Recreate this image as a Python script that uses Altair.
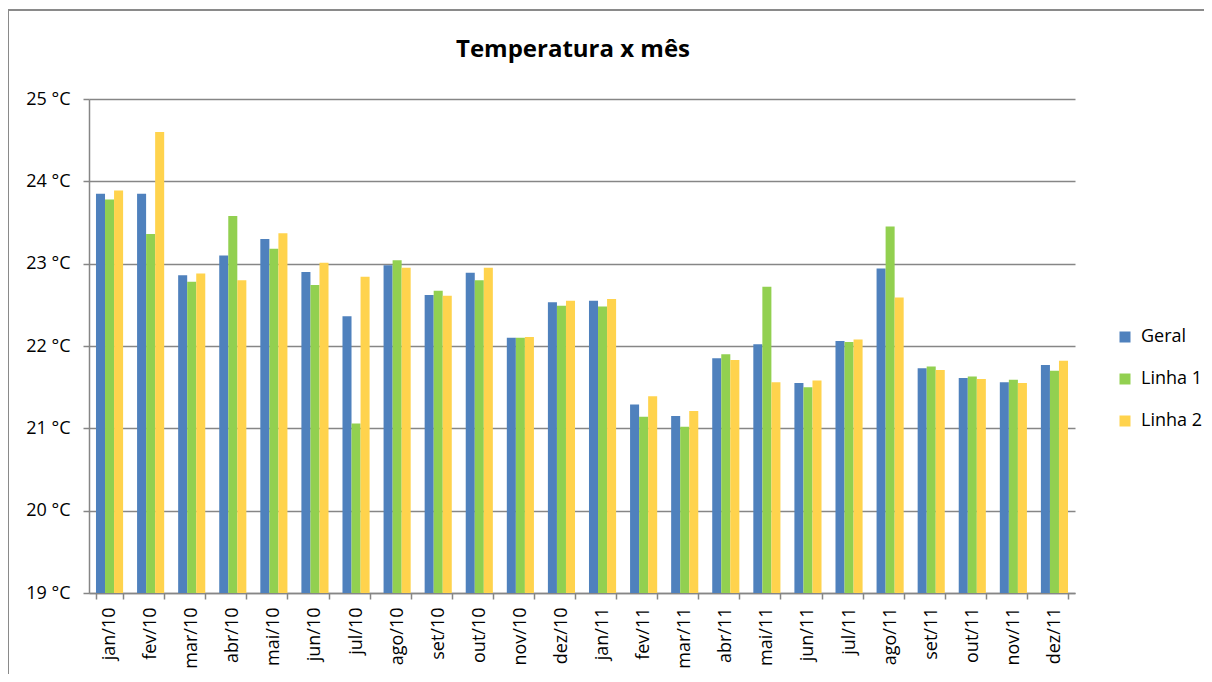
import altair as alt
import pandas as pd

chart_title = "Temperatura x mês"
months = ["jan/10", "fev/10", "mar/10", "abr/10", "mai/10", "jun/10", "jul/10", "ago/10",
          "set/10", "out/10", "nov/10", "dez/10", "jan/11", "fev/11", "mar/11", "abr/11",
          "mai/11", "jun/11", "jul/11", "ago/11", "set/11", "out/11", "nov/11", "dez/11"]
geral = [23.85, 23.85, 22.86, 23.10, 23.30, 22.90, 22.36, 22.98, 22.62, 22.89, 22.10, 22.53,
         22.55, 21.29, 21.15, 21.85, 22.02, 21.55, 22.06, 22.94, 21.73, 21.61, 21.56, 21.77]
linha1 = [23.78, 23.36, 22.78, 23.58, 23.18, 22.74, 21.06, 23.04, 22.67, 22.80, 22.10, 22.49,
          22.48, 21.14, 21.02, 21.90, 22.72, 21.50, 22.05, 23.45, 21.75, 21.63, 21.59, 21.70]
linha2 = [23.89, 24.60, 22.88, 22.80, 23.37, 23.01, 22.84, 22.95, 22.61, 22.95, 22.11, 22.55,
          22.57, 21.39, 21.21, 21.83, 21.56, 21.58, 22.08, 22.59, 21.71, 21.60, 21.55, 21.82]
series_names = ["Geral", "Linha 1", "Linha 2"]
series_colors = ["#4F81BD", "#92D050", "#FFD34D"]
y_ticks = [19, 20, 21, 22, 23, 24, 25]

rows = []
for name, vals in zip(series_names, [geral, linha1, linha2]):
    for m, v in zip(months, vals):
        rows.append({"mes": m, "serie": name, "temp": v})
df = pd.DataFrame(rows)

FONT = "Open Sans"
GRAY = "#868686"

bars = alt.Chart(df).mark_bar().encode(
    x=alt.X("mes:N", sort=months, title=None,
            scale=alt.Scale(paddingInner=0.34, paddingOuter=0.17),
            axis=alt.Axis(labelAngle=-90, labelAlign="right", labelBaseline="middle",
                          labelPadding=8, tickBand="extent", tickSize=6,
                          tickColor=GRAY, domainColor=GRAY, domainWidth=1.5,
                          tickWidth=1.5, labelFontSize=18, labelFont=FONT,
                          labelColor="#000000", grid=False)),
    xOffset=alt.XOffset("serie:N", sort=series_names, scale=alt.Scale(paddingInner=0, paddingOuter=0)),
    y=alt.Y("temp:Q", title=None,
            scale=alt.Scale(domain=[19, 25], zero=False, nice=False),
            axis=alt.Axis(values=y_ticks, labelExpr="datum.value + ' °C'",
                          tickSize=6, tickColor=GRAY, tickWidth=1.5,
                          domainColor=GRAY, domainWidth=1.5,
                          gridColor=GRAY, gridWidth=1.5, grid=True,
                          labelPadding=13, labelFontSize=18, labelFont=FONT,
                          labelColor="#000000")),
    y2=alt.datum(19),
    color=alt.Color("serie:N", sort=series_names,
                    scale=alt.Scale(domain=series_names, range=series_colors),
                    legend=alt.Legend(title=None, orient="none", legendX=1027, legendY=229,
                                      symbolType="square", symbolSize=121,
                                      symbolStrokeWidth=0, labelFontSize=18,
                                      labelFont=FONT, labelColor="#000000",
                                      rowPadding=24, padding=0, labelOffset=7)),
)

one = pd.DataFrame({"b": [0]})
border_left = alt.Chart(one).mark_rule(color="#8a8a8a", strokeWidth=2).encode(
    x=alt.value(-81), y=alt.value(-89), y2=alt.value(700),
)
border_top = alt.Chart(one).mark_rule(color="#8a8a8a", strokeWidth=2).encode(
    x=alt.value(-82), x2=alt.value(1200), y=alt.value(-89),
)

title_text = alt.Chart(pd.DataFrame({"t": [chart_title]})).mark_text(
    fontSize=24, fontWeight="bold", font=FONT, align="center",
    baseline="alphabetic", color="#000000"
).encode(
    x=alt.value(484),
    y=alt.value(-42),
    text="t:N",
)

chart = alt.layer(border_left, border_top, bars, title_text).properties(
    width=986,
    height=494,
    autosize=alt.AutoSizeParams(type="none"),
    padding={"left": 81, "top": 91, "right": 129, "bottom": 81},
    background="white",
).configure_view(stroke=None)

chart.save("out.html", embed_options={"renderer": "svg", "actions": False})
